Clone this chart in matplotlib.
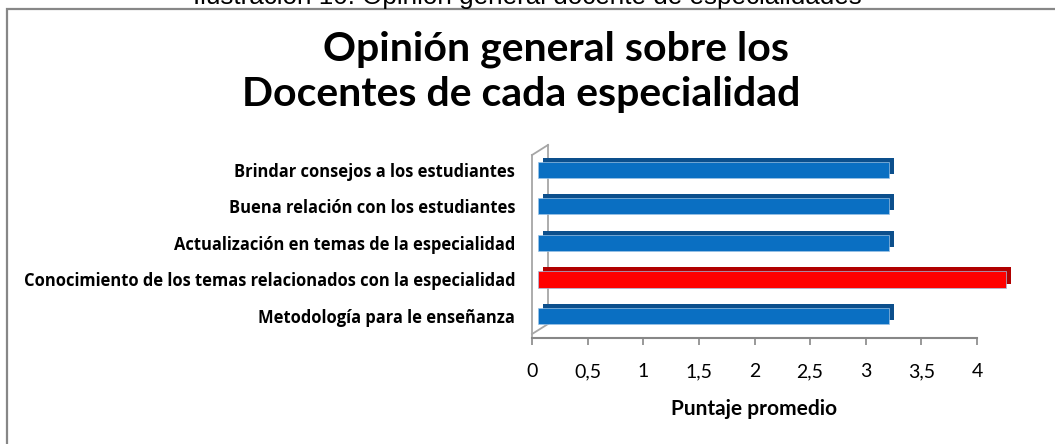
import numpy as np
import matplotlib
matplotlib.use('Agg')
import matplotlib.pyplot as plt
from matplotlib.transforms import offset_copy
from matplotlib.lines import Line2D
from matplotlib.patches import Rectangle

# Data
categorias = ['Metodología para le enseñanza',
              'Conocimiento de los temas relacionados con la especialidad',
              'Actualización en temas de la especialidad',
              'Buena relación con los estudiantes',
              'Brindar consejos a los estudiantes']
puntajes = [3, 4, 3, 3, 3]
colores = ['#0a6fc2', '#ff0000', '#0a6fc2', '#0a6fc2', '#0a6fc2']
colores_lado = ['#0c4f8c', '#b00000', '#0c4f8c', '#0c4f8c', '#0c4f8c']
ticks = [0, 0.5, 1, 1.5, 2, 2.5, 3, 3.5, 4]
tick_labels = ['0', '0,5', '1', '1,5', '2', '2,5', '3', '3,5', '4']

W, H = 1055, 444
fig = plt.figure(figsize=(W / 100, H / 100), dpi=100)
gris = '#878787'

# main axis (ticks), pixel 532 -> 0, 977 -> 4
ax = fig.add_axes([532 / W, 1 - 338 / H, 445 / W, 198 / H])
ax.set_xlim(0, 4)
ax.set_ylim(-0.603, 4.82)
ax.set_xticks(ticks)
ax.set_xticklabels(tick_labels, fontsize=14, family='Lato')
ax.set_yticks(range(len(categorias)))
ax.set_yticklabels(categorias, fontsize=11.9, family='Open Sans', fontweight='bold')
ax.tick_params(axis='y', length=0, pad=12)
ax.tick_params(axis='x', length=5, width=1.2, color=gris, pad=13)
for s in ['top', 'right', 'left']:
    ax.spines[s].set_visible(False)
ax.spines['bottom'].set_color(gris)
ax.spines['bottom'].set_linewidth(1.5)
ax.set_xlabel('Puntaje promedio', fontsize=15, family='Lato', fontweight='bold', labelpad=14)

# back wall of the 3D look
kw = dict(transform=ax.transAxes, color='#a6a6a6', lw=1.3, clip_on=False)
ax.add_line(Line2D([0, 0], [0, 0.924], **kw))
ax.add_line(Line2D([0.036, 0.036], [0.0707, 0.975], **kw))
ax.add_line(Line2D([0, 0.036], [0.02, 0.0707], **kw))
ax.add_line(Line2D([0, 0.036], [0.924, 0.975], **kw))

# bars in their own (perspective) scale
bx = ax.twiny()
bx.set_xlim(-6 / 117, 439 / 117)
bx.axis('off')
y = np.arange(len(categorias))
sombra = bx.barh(y, puntajes, height=0.44, color=colores_lado, clip_on=False, zorder=2)
off = offset_copy(bx.transData, fig=fig, x=5, y=4, units='dots')
for p in sombra:
    p.set_transform(off)
bx.barh(y, puntajes, height=0.44, color=colores, edgecolor='#9cc3e6', linewidth=0.5,
        clip_on=False, zorder=3)

# title
fig.text(556 / W, 1 - 61 / H, 'Opinión general sobre los', ha='center', va='baseline',
         fontsize=29.5, family='Lato', fontweight='bold')
fig.text(521 / W, 1 - 106 / H, 'Docentes de cada especialidad', ha='center', va='baseline',
         fontsize=29.5, family='Lato', fontweight='bold')

# caption cut at the top
fig.text(527 / W, 1 - 4 / H, 'Ilustración 10: Opinión general docente de especialidades',
         ha='center', va='baseline', fontsize=18.7, family='Liberation Sans')

# outer frame
fig.patches.append(Rectangle((7 / W, -0.1), 1.2, 1 - 9 / H + 0.1, transform=fig.transFigure,
                             fill=False, edgecolor=gris, lw=1.6))

fig.savefig('out.png', dpi=100)
